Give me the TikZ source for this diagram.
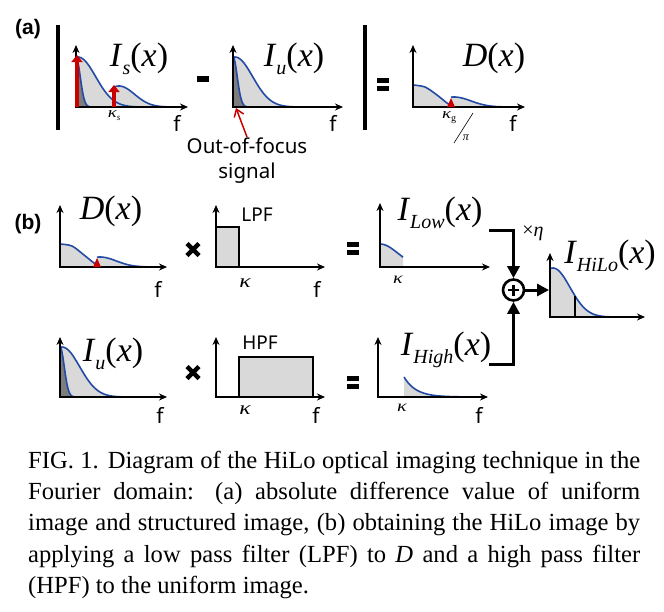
\documentclass[tikz,border=0pt]{standalone}
\usepackage{fontspec}
\usepackage{graphicx}
\usetikzlibrary{arrows.meta}
\newfontfamily\tms{Liberation Serif}
\newfontfamily\sfn{Noto Sans}
\newfontfamily\sfb{Liberation Sans}
\definecolor{cblue}{RGB}{35,75,165}
\definecolor{lgray}{RGB}{217,217,217}
\definecolor{dgray}{RGB}{125,125,125}
\definecolor{cred}{RGB}{200,0,0}
\newcommand{\Lab}[2]{{\tms\fontsize{34}{34}\selectfont\textit{#1}\raisebox{-7.5pt}{\fontsize{20}{20}\selectfont\textit{#2}}(\textit{x})}}
\newcommand{\kap}{\scalebox{1.25}[1]{\tms\itshape κ}}
\tikzset{
  declare function={gs(\t,\c,\s)=exp(-(\t-\c)*(\t-\c)/(\s*\s));},
  axisline/.style={line width=1.6pt,{Stealth[length=8pt,width=7pt]}-{Stealth[length=8pt,width=7pt]}},
  curveline/.style={cblue,line width=1.6pt},
  redarr/.style={cred,line width=4pt,-{Triangle[length=7pt,width=11pt]}},
  conn/.style={line width=3pt,-{Triangle[length=12pt,width=12pt]}},
  flab/.style={font=\sfn\fontsize{21}{21}\selectfont,inner sep=0pt},
  klab/.style={font=\fontsize{19}{19}\selectfont,inner sep=0pt},
  ksmall/.style={font=\fontsize{16}{16}\selectfont,inner sep=0pt},
  biglab/.style={inner sep=0pt},
  sflab/.style={font=\sfn\fontsize{19}{19}\selectfont,inner sep=0pt},
  oofstyle/.style={font=\sfn\fontsize{20.5}{25}\selectfont,inner sep=0pt},
  plab/.style={font=\sfb\bfseries\fontsize{21}{21}\selectfont,inner sep=0pt},
  captext/.style={font=\tms\fontsize{24.6}{31}\selectfont,inner sep=0pt,anchor=base west},
  vbar/.style={line width=3.3pt},
  opfill/.style={fill=black},
  gscope/.style={shift={#1},yscale=-1}
}
\newcommand{\eqsign}[2]{\fill[opfill] (#1-6,#2-6.5) rectangle (#1+6,#2-1.5); \fill[opfill] (#1-6,#2+1.5) rectangle (#1+6,#2+6.5);}
\newcommand{\xsign}[2]{\draw[line width=4.5pt] (#1-6,#2-6) -- (#1+6,#2+6) (#1-6,#2+6) -- (#1+6,#2-6);}
\begin{document}
\begin{tikzpicture}[x=1pt,y=-1pt]
\useasboundingbox (0,0) rectangle (664,611);
\fill[white] (0,0) rectangle (664,611);

% ---------------- (a) ----------------
\node[plab] (la) at (28,29) {(a)};
\draw[vbar] (58,25) -- (58,130);
\draw[vbar] (365,25) -- (365,130);

% I_s graph
\begin{scope}[gscope={(76,107)}]
  \fill[lgray] (0,0) -- plot[domain=0:100,samples=60] (\x,{50*gs(\x,2,25)}) -- (100,0) -- cycle;
  \fill[lgray] (37,0) -- plot[domain=37:108,samples=50] (\x,{21*gs(\x,43,22)}) -- (108,0) -- cycle;
  \fill[dgray] (0,0) -- plot[domain=0:14,samples=30] (\x,{50*gs(\x,0,6)}) -- cycle;
  \draw[curveline] plot[domain=0:95,samples=60] (\x,{50*gs(\x,2,25)});
  \draw[curveline] plot[domain=37:106,samples=50] (\x,{21*gs(\x,43,22)});
  \draw[curveline] plot[domain=0:14,samples=30] (\x,{50*gs(\x,0,6)});
  \draw[axisline] (0,62) -- (0,0) -- (112,0);
  \draw[redarr] (1,0) -- (1,52);
  \draw[redarr] (38,0) -- (38,22);
\end{scope}
\node[biglab] (Is) at (139,59) {\Lab{I}{s}};
\node[flab] (f1) at (177,123) {f};
\node[inner sep=0pt,font=\fontsize{15}{15}\selectfont] (ks) at (114,116) {\kap\raisebox{-3pt}{\fontsize{9}{9}\selectfont\tms\itshape s}};

\fill[opfill] (197,76) rectangle (209,82);

% I_u graph
\begin{scope}[gscope={(233,107)}]
  \fill[lgray] (0,0) -- plot[domain=0:100,samples=60] (\x,{50*gs(\x,2,25)}) -- (100,0) -- cycle;
  \fill[dgray] (0,0) -- plot[domain=0:14,samples=30] (\x,{50*gs(\x,0,6)}) -- cycle;
  \draw[curveline] plot[domain=0:95,samples=60] (\x,{50*gs(\x,2,25)});
  \draw[curveline] plot[domain=0:14,samples=30] (\x,{50*gs(\x,0,6)});
  \draw[axisline] (0,62) -- (0,0) -- (110,0);
\end{scope}
\node[biglab] (Iu) at (294,59) {\Lab{I}{u}};
\node[flab] (f2) at (333,123) {f};
\node[oofstyle,align=center] (oof) at (247,161) {Out-of-focus\\signal};
\coordinate (oofpt) at (236,108);
\draw[cred,line width=1.5pt,-{Straight Barb[length=7pt,width=10pt]}] (oof.north) ++(0,-1) -- (oofpt);

\eqsign{383}{84.5}

% D graph (a)
\begin{scope}[gscope={(413,107)}]
  \fill[lgray] plot[smooth] coordinates {(0,22) (12,20) (24,12) (34,4) (40,0.3)} -- (0,0) -- cycle;
  \fill[lgray] (38,0) -- plot[domain=38:105,samples=50] (\x,{10*gs(\x,41,24)}) -- (105,0) -- cycle;
  \draw[curveline] plot[smooth] coordinates {(0,22) (12,20) (24,12) (34,4) (40,0.3)};
  \draw[curveline] plot[domain=38:105,samples=50] (\x,{10*gs(\x,41,24)});
  \draw[axisline] (0,62) -- (0,0) -- (112,0);
  \fill[cred] (34,0) -- (42,0) -- (38,9) -- cycle;
\end{scope}
\node[biglab] (Da) at (494,58) {\Lab{D}{}};
\node[flab] (f3) at (513,123) {f};
\node[inner sep=0pt,font=\fontsize{15}{15}\selectfont] (kg) at (449,118) {\kap\raisebox{-3pt}{\fontsize{10}{10}\selectfont\tms g}};
\coordinate (sl1) at (473,113);
\coordinate (sl2) at (454,143);
\draw[line width=0.6pt] (sl1) -- (sl2);
\node[inner sep=0pt,font=\tms\itshape\fontsize{12}{12}\selectfont] (pi) at (466,138) {π};

% ---------------- (b) ----------------
\node[plab] (lb) at (28,224) {(b)};

% D graph (b)
\begin{scope}[gscope={(60,267)}]
  \fill[lgray] plot[smooth] coordinates {(0,23) (12,21) (24,12) (34,4) (40,0.3)} -- (0,0) -- cycle;
  \fill[lgray] (37,0) -- plot[domain=37:100,samples=50] (\x,{10*gs(\x,40,23)}) -- (100,0) -- cycle;
  \draw[curveline] plot[smooth] coordinates {(0,23) (12,21) (24,12) (34,4) (40,0.3)};
  \draw[curveline] plot[domain=37:100,samples=50] (\x,{10*gs(\x,40,23)});
  \draw[axisline] (0,62) -- (0,0) -- (107,0);
  \fill[cred] (33,0) -- (41,0) -- (37,9) -- cycle;
\end{scope}
\node[biglab] (Db) at (111,211) {\Lab{D}{}};
\node[flab] (f4) at (158,289) {f};

\xsign{193}{249.5}

% LPF
\begin{scope}[gscope={(216,267)}]
  \draw[line width=1.6pt,fill=lgray] (0,0) rectangle (23,40);
  \draw[axisline] (0,62) -- (0,0) -- (109,0);
\end{scope}
\node[sflab] (lpf) at (257,215) {LPF};
\node[klab] (k1) at (245,283) {\kap};
\node[flab] (f5) at (317,289) {f};

\eqsign{353}{248.5}

% I_Low
\begin{scope}[gscope={(380,267)}]
  \fill[lgray] (0,0) -- plot[domain=0:23,samples=20] (\x,{23*gs(\x,0,25)}) -- (23,0) -- cycle;
  \draw[curveline] plot[domain=0:23,samples=20] (\x,{23*gs(\x,0,25)});
  \draw[axisline] (0,64) -- (0,0) -- (110,0);
\end{scope}
\node[biglab] (ILow) at (440,213) {\Lab{I}{Low}};
\node[ksmall] (k2) at (398,280) {\kap};

% row 2
\begin{scope}[gscope={(60,397)}]
  \fill[lgray] (0,0) -- plot[domain=0:100,samples=60] (\x,{50*gs(\x,2,25)}) -- (100,0) -- cycle;
  \fill[dgray] (0,0) -- plot[domain=0:14,samples=30] (\x,{50*gs(\x,0,6)}) -- cycle;
  \draw[curveline] plot[domain=0:95,samples=60] (\x,{50*gs(\x,2,25)});
  \draw[curveline] plot[domain=0:14,samples=30] (\x,{50*gs(\x,0,6)});
  \draw[axisline] (0,60) -- (0,0) -- (107,0);
\end{scope}
\node[biglab] (Iub) at (113,354) {\Lab{I}{u}};
\node[flab] (f6) at (160,415) {f};

\xsign{193}{372.5}

% HPF
\begin{scope}[gscope={(216,397)}]
  \draw[line width=1.6pt,fill=lgray] (23,0) rectangle (97,40);
  \draw[axisline] (0,60) -- (0,0) -- (109,0);
\end{scope}
\node[sflab] (hpf) at (260,343) {HPF};
\node[klab] (k3) at (245,410) {\kap};
\node[flab] (f7) at (316,415) {f};

\eqsign{353}{382}

% I_High
\begin{scope}[gscope={(378,397)}]
  \fill[lgray] (26,0) -- plot[domain=26:85,samples=40] (\x,{20*exp(-(\x-26)/12)}) -- (85,0) -- cycle;
  \draw[curveline] plot[domain=26:85,samples=40] (\x,{20*exp(-(\x-26)/12)});
  \draw[axisline] (0,60) -- (0,0) -- (110,0);
\end{scope}
\node[biglab] (IHigh) at (446,350) {\Lab{I}{High}};
\node[ksmall] (k4) at (402,408) {\kap};
\node[flab] (f8) at (479,415) {f};

% combiner
\node[circle,draw,line width=2.6pt,minimum size=21pt,inner sep=0pt,
  path picture={\draw[line width=2.4pt] ([xshift=-5.5pt]path picture bounding box.center) -- ([xshift=5.5pt]path picture bounding box.center)
  ([yshift=-5.5pt]path picture bounding box.center) -- ([yshift=5.5pt]path picture bounding box.center);}] (plus) at (513.5,290) {};
\coordinate (lowend) at (489,230);
\coordinate (highend) at (489,364);
\coordinate (hiloin) at (549,290);
\draw[conn] (lowend) -| (plus.north);
\draw[conn] (highend) -| (plus.south);
\draw[conn] (plus.east) -- (hiloin);
\node[inner sep=0pt,font=\tms\fontsize{20}{20}\selectfont] (eta) at (533,233) {×\textit{η}};

% I_HiLo
\begin{scope}[gscope={(550,317)}]
  \fill[lgray] (0,0) -- plot[domain=0:80,samples=50] (\x,{49*gs(\x,3,24)}) -- (80,0) -- cycle;
  \draw[curveline] plot[domain=0:80,samples=50] (\x,{49*gs(\x,3,24)});
  \draw[line width=1.2pt] (25,0) -- (25,{49*gs(25,3,24)});
  \draw[axisline] (0,64) -- (0,0) -- (95,0);
\end{scope}
\node[biglab] (IHiLo) at (610,256) {\Lab{I}{HiLo}};

% caption
\node[captext] (c1) at (28,468) {\hbox to 612pt{FIG. 1. Diagram of the HiLo optical imaging technique in the}};
\node[captext] (c2) at (28,499) {\hbox to 612pt{Fourier domain: (a) absolute difference value of uniform}};
\node[captext] (c3) at (28,530) {\hbox to 612pt{image and structured image, (b) obtaining the HiLo image by}};
\node[captext] (c4) at (28,562) {\hbox to 612pt{applying a low pass filter (LPF) to \textit{D} and a high pass filter}};
\node[captext] (c5) at (28,593) {(HPF) to the uniform image.};
\end{tikzpicture}
\end{document}
